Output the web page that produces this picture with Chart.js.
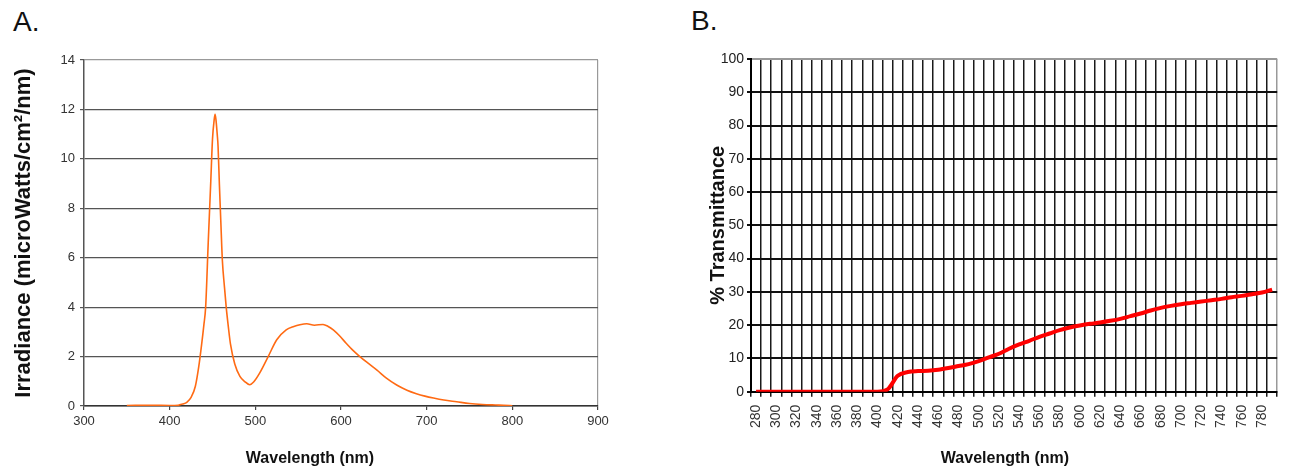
<!DOCTYPE html>
<html>
<head>
<meta charset="utf-8">
<script src="https://cdn.jsdelivr.net/npm/chart.js@4.4.1/dist/chart.umd.min.js"></script>
<style>
  body { margin: 0; background: #fff; width: 1297px; height: 468px; overflow: hidden; position: relative; font-family: "Liberation Sans", Arial, sans-serif; }
  .tag { position: absolute; font-size: 28px; line-height: 1; color: #111; }
  #chartA { position: absolute; left: 0; top: 0; }
  #chartB { position: absolute; left: 690px; top: 0; }
</style>
</head>
<body>
<div class="tag" style="left:13px; top:8px;">A.</div>
<div class="tag" style="left:691px; top:7px;">B.</div>
<canvas id="chartA" width="620" height="468"></canvas>
<canvas id="chartB" width="607" height="468"></canvas>
<script>
// panel A - irradiance spectrum
const aWavelength = [350, 380, 400, 410, 415, 420, 425, 430, 434, 437, 440, 442, 445, 448, 450, 452, 453, 454, 455.5, 456.5, 458, 460, 461.5, 464, 466, 468.5, 471, 476, 482, 488, 493.5, 498, 505, 515, 525, 536, 545, 552, 560, 569, 579, 585, 591, 598, 606, 614, 622, 632, 642, 653, 665, 677, 688, 698, 708, 720, 735, 750, 765, 780, 790, 800];
const aIrradiance = [0.02, 0.03, 0.02, 0.03, 0.08, 0.15, 0.35, 0.8, 1.6, 2.4, 3.3, 4.0, 6.6, 9.1, 10.8, 11.6, 11.8, 11.6, 11.0, 10.5, 9.0, 7.2, 5.9, 4.8, 4.0, 3.2, 2.5, 1.7, 1.2, 0.98, 0.86, 0.97, 1.33, 2.0, 2.68, 3.08, 3.22, 3.29, 3.33, 3.27, 3.3, 3.22, 3.08, 2.85, 2.54, 2.25, 2.0, 1.72, 1.45, 1.13, 0.85, 0.64, 0.5, 0.4, 0.32, 0.24, 0.17, 0.1, 0.06, 0.04, 0.03, 0.01];

// panel B - transmittance, one value per 10 nm category
const bWavelength = [280, 290, 300, 310, 320, 330, 340, 350, 360, 370, 380, 390, 400, 410, 420, 430, 440, 450, 460, 470, 480, 490, 500, 510, 520, 530, 540, 550, 560, 570, 580, 590, 600, 610, 620, 630, 640, 650, 660, 670, 680, 690, 700, 710, 720, 730, 740, 750, 760, 770, 780, 790];
const bTransmittance = [0, 0, 0, 0, 0, 0, 0, 0, 0, 0, 0, 0, 0, 0.7, 4.8, 5.9, 6.2, 6.3, 6.6, 7.1, 7.7, 8.3, 9.2, 10.3, 11.4, 12.9, 14.2, 15.3, 16.5, 17.5, 18.5, 19.3, 19.9, 20.4, 20.8, 21.3, 21.9, 22.7, 23.5, 24.4, 25.2, 25.8, 26.3, 26.7, 27.1, 27.5, 27.9, 28.4, 28.8, 29.3, 29.8, 30.7];
const bTickLabels = [280, 300, 320, 340, 360, 380, 400, 420, 440, 460, 480, 500, 520, 540, 560, 580, 600, 620, 640, 660, 680, 700, 720, 740, 760, 780];

const sans = "'Liberation Sans', Arial, sans-serif";
const narrow = "'Liberation Sans Narrow', 'Liberation Sans', Arial, sans-serif";

new Chart(document.getElementById("chartA"), {
    type: "line",
    data: {
        datasets: [{
            data: aWavelength.map((w, i) => ({ x: w, y: aIrradiance[i] })),
            borderColor: "#ff6a13",
            borderWidth: 1.6,
            pointRadius: 0,
            cubicInterpolationMode: "monotone",
            fill: false,
        }],
    },
    options: {
        responsive: false,
        animation: false,
        layout: { padding: { left: 22, right: 22, top: 60, bottom: 0 } },
        plugins: {
            legend: { display: false },
            tooltip: { enabled: false },
            title: {
                display: true, position: "bottom", text: "Wavelength (nm)", color: "#111",
                font: { family: sans, size: 16, weight: "bold" }, padding: { top: 4, bottom: 0 },
            },
        },
        scales: {
            x: {
                type: "linear", min: 300, max: 900,
                afterFit: (s) => { s.height = 38.8; },
                ticks: { stepSize: 100, color: "#333", font: { family: sans, size: 13 }, padding: 4, maxRotation: 0 },
                grid: {
                    color: (c) => (c.tick && c.tick.value === 900 ? "#999" : "rgba(0,0,0,0)"),
                    tickColor: "#444", tickLength: 4, lineWidth: 1.2,
                },
                border: { color: "#333", width: 1.5 },
            },
            y: {
                min: 0, max: 14,
                afterFit: (s) => { s.width = 62; },
                ticks: { stepSize: 2, color: "#333", font: { family: sans, size: 13 }, padding: 5 },
                grid: {
                    color: (c) => (c.tick && c.tick.value === 14 ? "#999" : "#555"),
                    tickColor: "#555", tickLength: 4, lineWidth: 1.2,
                },
                border: { color: "#555", width: 1.5 },
                title: {
                    display: true, text: "Irradiance (microWatts/cm²/nm)", color: "#111",
                    font: { family: sans, size: 22, weight: "bold" }, padding: { top: -11.2, bottom: 0 },
                },
            },
        },
    },
});

new Chart(document.getElementById("chartB"), {
    type: "line",
    data: {
        labels: bWavelength,
        datasets: [{
            data: bTransmittance,
            borderColor: "#ff0000",
            borderWidth: 4,
            pointRadius: 0,
            cubicInterpolationMode: "monotone",
            fill: false,
        }],
    },
    options: {
        responsive: false,
        animation: false,
        layout: { padding: { left: 29, right: 6, top: 59, bottom: 0 } },
        plugins: {
            legend: { display: false },
            tooltip: { enabled: false },
            title: {
                display: true, position: "bottom", text: "Wavelength (nm)", color: "#111",
                font: { family: sans, size: 16, weight: "bold" }, padding: { top: 4, bottom: 0 },
            },
        },
        scales: {
            x: {
                type: "category", offset: true,
                afterFit: (s) => { s.height = 53.1; },
                ticks: {
                    autoSkip: false, minRotation: 90, maxRotation: 90, padding: 8,
                    color: "#333", font: { family: sans, size: 14 },
                    callback: (v, i) => (bTickLabels.includes(bWavelength[i]) ? String(bWavelength[i]) : ""),
                },
                grid: {
                    offset: true,
                    color: (c) => (c.type === "scale" ? "#999" : "#1a1a1a"),
                    tickColor: "#1a1a1a", tickLength: 5, lineWidth: 1.5,
                },
                border: { color: "#000", width: 2 },
            },
            y: {
                min: 0, max: 100,
                afterFit: (s) => { s.width = 32; },
                ticks: { stepSize: 10, color: "#222", font: { family: narrow, size: 14 }, padding: 3 },
                grid: {
                    color: (c) => (c.tick && c.tick.value === 100 ? "#999" : "#111"),
                    tickColor: "#111", tickLength: 4, lineWidth: 2,
                },
                border: { color: "#000", width: 2 },
                title: {
                    display: true, text: "% Transmittance", color: "#111",
                    font: { family: sans, size: 20, weight: "bold" }, padding: { top: -13, bottom: 0 },
                },
            },
        },
    },
});
</script>
</body>
</html>
